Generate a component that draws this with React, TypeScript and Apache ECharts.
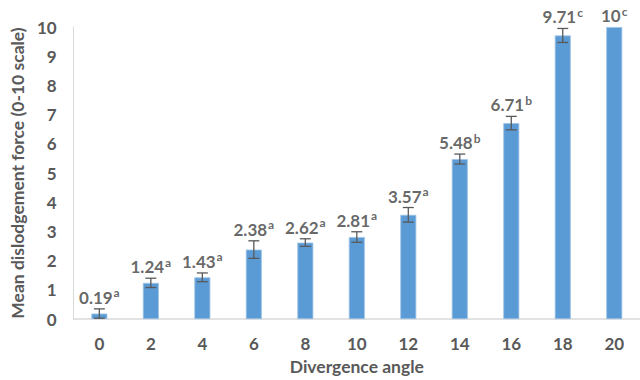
import React, { useEffect, useRef } from "react";
import * as echarts from "echarts";

// Divergence angle categories and mean dislodgement force (0-10 scale)
const angles = ["0", "2", "4", "6", "8", "10", "12", "14", "16", "18", "20"];
const means = [0.19, 1.24, 1.43, 2.38, 2.62, 2.81, 3.57, 5.48, 6.71, 9.71, 10];
const errors = [0.16, 0.16, 0.15, 0.3, 0.13, 0.18, 0.25, 0.17, 0.23, 0.24, 0];
const letters = ["a", "a", "a", "a", "a", "a", "a", "b", "b", "c", "c"];
const yTicks = [0, 1, 2, 3, 4, 5, 6, 7, 8, 9, 10];

const FONT = "Lato, 'Open Sans', sans-serif";
const AXIS_TEXT = "#595959";
const LABEL_TEXT = "#404040";

export default function App() {
  const ref = useRef<HTMLDivElement>(null);

  useEffect(() => {
    if (!ref.current) return;
    const chart = echarts.init(ref.current, undefined, { renderer: "svg" });

    const option: echarts.EChartsOption = {
      animation: false,
      backgroundColor: "#ffffff",
      grid: { left: 73, right: 0, top: 27, bottom: 59, containLabel: false },
      xAxis: {
        type: "category",
        data: angles,
        name: "Divergence angle",
        nameLocation: "middle",
        nameGap: 46,
        nameTextStyle: {
          fontFamily: FONT,
          fontSize: 17.5,
          fontWeight: "bold",
          color: AXIS_TEXT,
          verticalAlign: "middle",
        },
        axisLine: { lineStyle: { color: "#d9d9d9", width: 1.5 } },
        axisTick: { show: false },
        axisLabel: { margin: 16, fontFamily: FONT, fontSize: 17, fontWeight: "bold", color: AXIS_TEXT },
      },
      yAxis: {
        type: "value",
        min: yTicks[0],
        max: yTicks[yTicks.length - 1],
        interval: 1,
        name: "Mean dislodgement force (0-10 scale)",
        nameLocation: "middle",
        nameGap: 48,
        nameTextStyle: {
          fontFamily: FONT,
          fontSize: 17.5,
          fontWeight: "bold",
          color: AXIS_TEXT,
          verticalAlign: "middle",
        },
        axisLine: { show: true, lineStyle: { color: "#d9d9d9", width: 1 } },
        axisTick: { show: false },
        splitLine: { show: false },
        axisLabel: {
          margin: 17,
          padding: [6, 0, 0, 0],
          fontFamily: FONT,
          fontSize: 17,
          fontWeight: "bold",
          color: AXIS_TEXT,
        },
      },
      series: [
        {
          type: "bar",
          data: means,
          barWidth: 16,
          itemStyle: { color: "#5b9bd5", borderColor: "#9dc3e6", borderWidth: 0.8 },
          z: 2,
        },
        {
          // error bars (mean ± error) with caps
          type: "custom",
          data: means.map((m, i) => [i, m - errors[i], m + errors[i]]),
          renderItem: (params: any, api: any) => {
            if (errors[params.dataIndex] === 0) return { type: "group", children: [] };
            const lo = api.coord([api.value(0), api.value(1)]);
            const hi = api.coord([api.value(0), api.value(2)]);
            const half = 5.5;
            const style = { stroke: "#595959", lineWidth: 1.3 };
            return {
              type: "group",
              children: [
                { type: "line", shape: { x1: hi[0], y1: hi[1], x2: lo[0], y2: lo[1] }, style },
                { type: "line", shape: { x1: hi[0] - half, y1: hi[1], x2: hi[0] + half, y2: hi[1] }, style },
                { type: "line", shape: { x1: lo[0] - half, y1: lo[1], x2: lo[0] + half, y2: lo[1] }, style },
              ],
            };
          },
          z: 3,
        },
        {
          // value labels with superscript significance letters, above the error bars
          type: "scatter",
          data: means.map((m, i) => [i, m + errors[i]]),
          symbolSize: 0,
          clip: false,
          silent: true,
          label: {
            show: true,
            position: "top",
            distance: 3,
            formatter: (p: any) => `{v|${means[p.dataIndex]}}{s|${letters[p.dataIndex]}}`,
            rich: {
              v: {
                fontFamily: FONT,
                fontSize: 17,
                fontWeight: "bold",
                color: LABEL_TEXT,
                lineHeight: 18,
                verticalAlign: "bottom",
              },
              s: {
                fontFamily: FONT,
                fontSize: 12,
                fontWeight: "bold",
                color: LABEL_TEXT,
                lineHeight: 12,
                verticalAlign: "bottom",
                padding: [0, 0, 7, 1],
              },
            },
          },
          z: 4,
        },
      ],
    };

    chart.setOption(option);
    return () => chart.dispose();
  }, []);

  return (
    <div
      ref={ref}
      style={{ position: "fixed", left: 0, top: 0, width: 640, height: 380 }}
    />
  );
}
